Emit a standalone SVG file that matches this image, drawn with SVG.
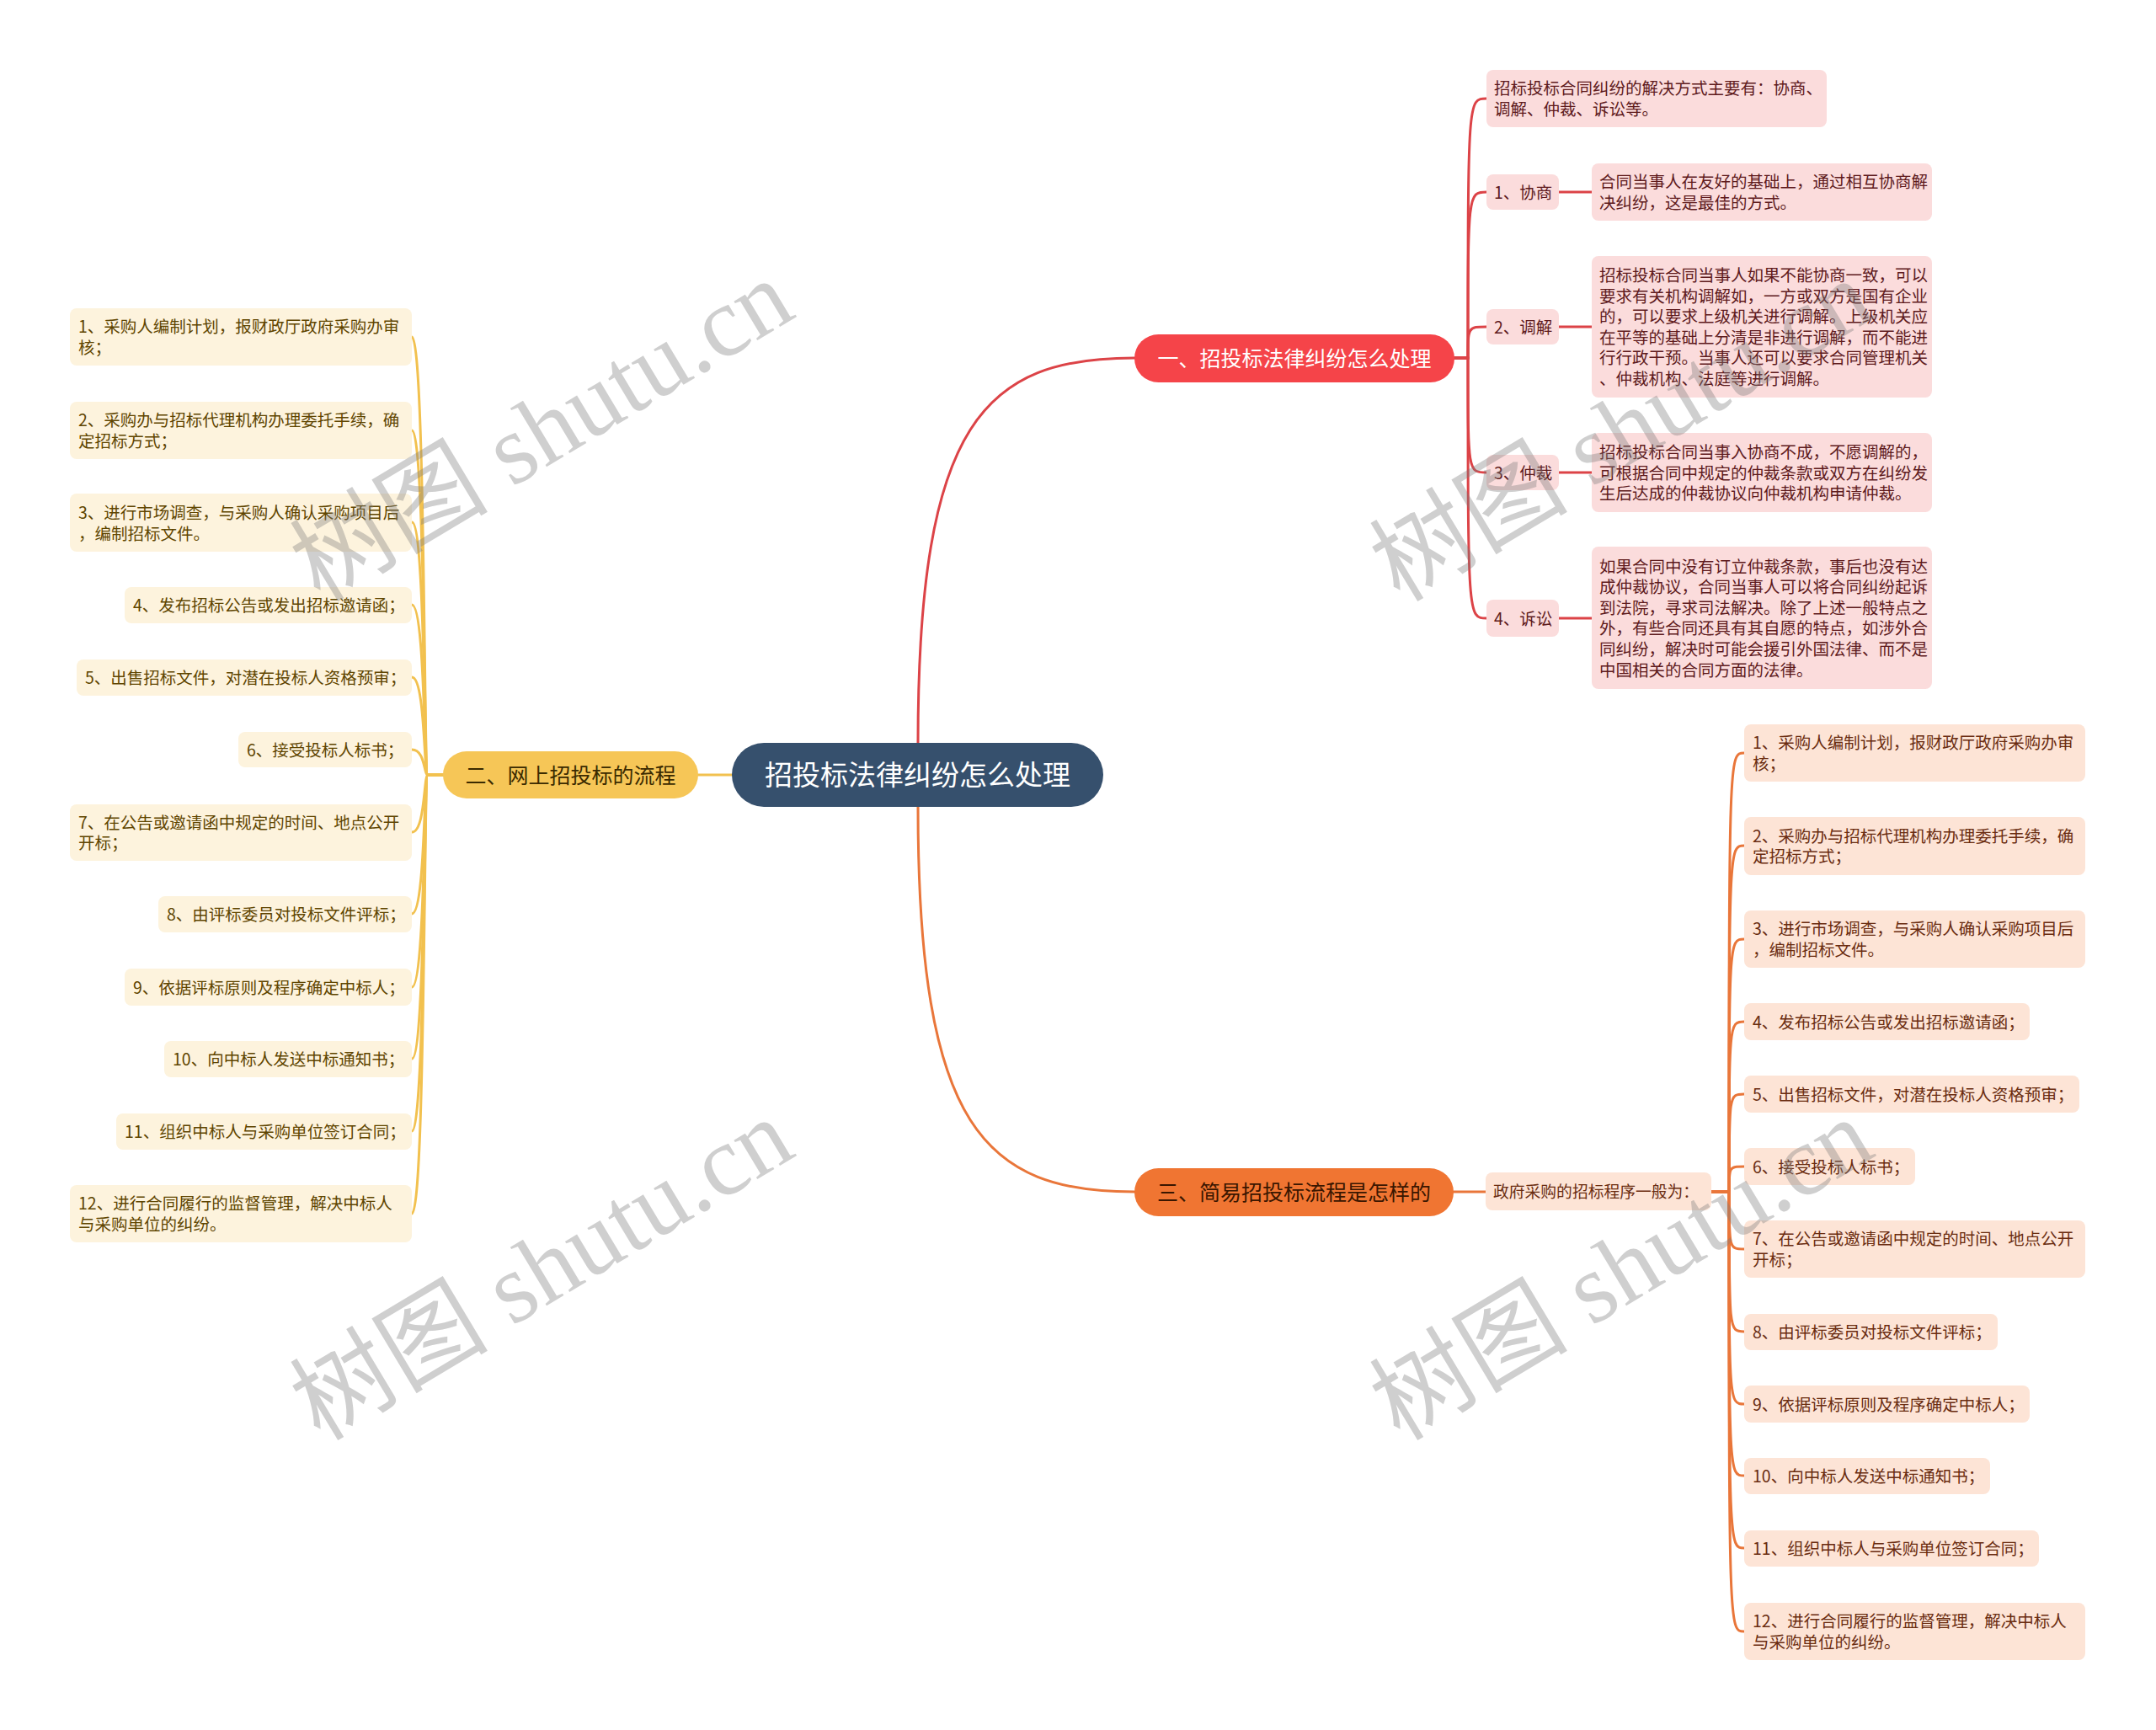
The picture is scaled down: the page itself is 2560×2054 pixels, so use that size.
<svg xmlns="http://www.w3.org/2000/svg" width="2560" height="2054" viewBox="0 0 2560 2054">
<style>
text{font-family:"Noto Sans CJK SC","Microsoft YaHei",sans-serif}
.c{fill:none;stroke-width:3;stroke-linecap:round}
.cr{stroke:#dc4347}
.cy{stroke:#f2c14f}
.co{stroke:#e9763a}
.br{fill:#fbdcdc}
.by{fill:#fdf3dd}
.bo{fill:#fde4d6}
.tr{font-size:19.5px;fill:#5e1a1c}
.ty{font-size:19.5px;fill:#5f4500}
.to{font-size:19.5px;fill:#6a2c10}
.main{font-size:25px}
.wm{font-family:"Liberation Serif","Noto Sans CJK SC",serif;font-size:118px;fill:#7a7a7a;fill-opacity:0.36}
</style>
<rect width="2560" height="2054" fill="#ffffff"/>
<g id="connectors">
<path class="c cr" d="M1090,882 C1090,500 1170,425 1347,425"/>
<path class="c co" d="M1090,958 C1090,1340 1170,1415 1347,1415"/>
<path class="c cy" d="M869,920 H829"/>
<path class="c cr" d="M1727,425 H1743 C1743,117 1743,117 1765,117"/>
<path class="c cr" d="M1727,425 H1743 C1743,228 1743,228 1765,228"/>
<path class="c cr" d="M1727,425 H1743 C1743,388 1743,388 1765,388"/>
<path class="c cr" d="M1727,425 H1743 C1743,561 1743,561 1765,561"/>
<path class="c cr" d="M1727,425 H1743 C1743,734 1743,734 1765,734"/>
<path class="c cr" d="M1851,228 H1890"/>
<path class="c cr" d="M1851,388 H1890"/>
<path class="c cr" d="M1851,561 H1890"/>
<path class="c cr" d="M1851,734 H1890"/>
<path class="c cy" d="M526,920 H508 C503,920 505,400 489,400"/>
<path class="c cy" d="M526,920 H508 C503,920 505,511 489,511"/>
<path class="c cy" d="M526,920 H508 C503,920 505,620 489,620"/>
<path class="c cy" d="M526,920 H508 C503,920 505,718 489,718"/>
<path class="c cy" d="M526,920 H508 C503,920 505,804 489,804"/>
<path class="c cy" d="M526,920 H508 C503,920 505,890 489,890"/>
<path class="c cy" d="M526,920 H508 C503,920 505,988 489,988"/>
<path class="c cy" d="M526,920 H508 C503,920 505,1085 489,1085"/>
<path class="c cy" d="M526,920 H508 C503,920 505,1172 489,1172"/>
<path class="c cy" d="M526,920 H508 C503,920 505,1257 489,1257"/>
<path class="c cy" d="M526,920 H508 C503,920 505,1343 489,1343"/>
<path class="c cy" d="M526,920 H508 C503,920 505,1441 489,1441"/>
<path class="c co" d="M1726,1415 H1764"/>
<path class="c co" d="M2032,1415 H2053 C2053,894 2053,894 2071,894"/>
<path class="c co" d="M2032,1415 H2053 C2053,1004 2053,1004 2071,1004"/>
<path class="c co" d="M2032,1415 H2053 C2053,1115 2053,1115 2071,1115"/>
<path class="c co" d="M2032,1415 H2053 C2053,1213 2053,1213 2071,1213"/>
<path class="c co" d="M2032,1415 H2053 C2053,1299 2053,1299 2071,1299"/>
<path class="c co" d="M2032,1415 H2053 C2053,1385 2053,1385 2071,1385"/>
<path class="c co" d="M2032,1415 H2053 C2053,1483 2053,1483 2071,1483"/>
<path class="c co" d="M2032,1415 H2053 C2053,1581 2053,1581 2071,1581"/>
<path class="c co" d="M2032,1415 H2053 C2053,1667 2053,1667 2071,1667"/>
<path class="c co" d="M2032,1415 H2053 C2053,1752 2053,1752 2071,1752"/>
<path class="c co" d="M2032,1415 H2053 C2053,1838 2053,1838 2071,1838"/>
<path class="c co" d="M2032,1415 H2053 C2053,1937 2053,1937 2071,1937"/>
</g>
<g id="root">
<rect x="869" y="882" width="441" height="76" rx="38" fill="#36506d"/>
<text x="1089.5" y="932" text-anchor="middle" font-size="33" fill="#ffffff">招投标法律纠纷怎么处理</text>
</g>
<g id="b1">
<rect x="1347" y="397" width="380" height="57" rx="28.5" fill="#f54449"/>
<text x="1537" y="435" text-anchor="middle" class="main" fill="#ffffff">一、招投标法律纠纷怎么处理</text>
</g>
<g id="b1-intro">
<rect class="br" x="1765" y="83" width="404" height="68" rx="8"/>
<text class="tr" x="1774" y="112">招标投标合同纠纷的解决方式主要有：协商、<tspan x="1774" y="136.5">调解、仲裁、诉讼等。</tspan></text>
</g>
<g id="b1-1">
<rect class="br" x="1765" y="207" width="86" height="42" rx="8"/>
<text class="tr" x="1774" y="235.5">1、协商</text>
</g>
<g id="b1-1d">
<rect class="br" x="1890" y="194" width="404" height="68" rx="8"/>
<text class="tr" x="1899" y="223">合同当事人在友好的基础上，通过相互协商解<tspan x="1899" y="247.5">决纠纷，这是最佳的方式。</tspan></text>
</g>
<g id="b1-2">
<rect class="br" x="1765" y="367" width="86" height="42" rx="8"/>
<text class="tr" x="1774" y="395.5">2、调解</text>
</g>
<g id="b1-2d">
<rect class="br" x="1890" y="304" width="404" height="168" rx="8"/>
<text class="tr" x="1899" y="334">招标投标合同当事人如果不能协商一致，可以<tspan x="1899" y="358.5">要求有关机构调解如，一方或双方是国有企业</tspan><tspan x="1899" y="383">的，可以要求上级机关进行调解。上级机关应</tspan><tspan x="1899" y="407.5">在平等的基础上分清是非进行调解，而不能进</tspan><tspan x="1899" y="432">行行政干预。当事人还可以要求合同管理机关</tspan><tspan x="1899" y="457">、仲裁机构、法庭等进行调解。</tspan></text>
</g>
<g id="b1-3">
<rect class="br" x="1765" y="540" width="86" height="42" rx="8"/>
<text class="tr" x="1774" y="568.5">3、仲裁</text>
</g>
<g id="b1-3d">
<rect class="br" x="1890" y="514" width="404" height="94" rx="8"/>
<text class="tr" x="1899" y="544">招标投标合同当事入协商不成，不愿调解的，<tspan x="1899" y="568.5">可根据合同中规定的仲裁条款或双方在纠纷发</tspan><tspan x="1899" y="593">生后达成的仲裁协议向仲裁机构申请仲裁。</tspan></text>
</g>
<g id="b1-4">
<rect class="br" x="1765" y="712" width="86" height="44" rx="8"/>
<text class="tr" x="1774" y="741.5">4、诉讼</text>
</g>
<g id="b1-4d">
<rect class="br" x="1890" y="649" width="404" height="169" rx="8"/>
<text class="tr" x="1899" y="679.5">如果合同中没有订立仲裁条款，事后也没有达<tspan x="1899" y="704">成仲裁协议，合同当事人可以将合同纠纷起诉</tspan><tspan x="1899" y="728.5">到法院，寻求司法解决。除了上述一般特点之</tspan><tspan x="1899" y="753">外，有些合同还具有其自愿的特点，如涉外合</tspan><tspan x="1899" y="778">同纠纷，解决时可能会援引外国法律、而不是</tspan><tspan x="1899" y="802.5">中国相关的合同方面的法律。</tspan></text>
</g>
<g id="b2">
<rect x="526" y="892" width="303" height="56" rx="28" fill="#f6c657"/>
<text x="677.5" y="929.5" text-anchor="middle" class="main" fill="#3b2a00">二、网上招投标的流程</text>
</g>
<g id="b2-1"><rect class="by" x="83" y="366" width="406" height="68" rx="8"/><text class="ty" x="93" y="395">1、采购人编制计划，报财政厅政府采购办审<tspan x="93" y="420">核；</tspan></text></g>
<g id="b2-2"><rect class="by" x="83" y="477" width="406" height="68" rx="8"/><text class="ty" x="93" y="506">2、采购办与招标代理机构办理委托手续，确<tspan x="93" y="531">定招标方式；</tspan></text></g>
<g id="b2-3"><rect class="by" x="83" y="586" width="406" height="69" rx="8"/><text class="ty" x="93" y="616">3、进行市场调查，与采购人确认采购项目后<tspan x="93" y="640.5">，编制招标文件。</tspan></text></g>
<g id="b2-4"><rect class="by" x="148" y="697" width="341" height="43" rx="8"/><text class="ty" x="158" y="726">4、发布招标公告或发出招标邀请函；</text></g>
<g id="b2-5"><rect class="by" x="91" y="783" width="398" height="43" rx="8"/><text class="ty" x="101" y="812">5、出售招标文件，对潜在投标人资格预审；</text></g>
<g id="b2-6"><rect class="by" x="283" y="869" width="206" height="42" rx="8"/><text class="ty" x="293" y="897.5">6、接受投标人标书；</text></g>
<g id="b2-7"><rect class="by" x="83" y="955" width="406" height="67" rx="8"/><text class="ty" x="93" y="983.5">7、在公告或邀请函中规定的时间、地点公开<tspan x="93" y="1008">开标；</tspan></text></g>
<g id="b2-8"><rect class="by" x="188" y="1064" width="301" height="43" rx="8"/><text class="ty" x="198" y="1093">8、由评标委员对投标文件评标；</text></g>
<g id="b2-9"><rect class="by" x="148" y="1150" width="341" height="44" rx="8"/><text class="ty" x="158" y="1179.5">9、依据评标原则及程序确定中标人；</text></g>
<g id="b2-10"><rect class="by" x="195" y="1236" width="294" height="43" rx="8"/><text class="ty" x="205" y="1265">10、向中标人发送中标通知书；</text></g>
<g id="b2-11"><rect class="by" x="138" y="1322" width="351" height="43" rx="8"/><text class="ty" x="148" y="1351">11、组织中标人与采购单位签订合同；</text></g>
<g id="b2-12"><rect class="by" x="83" y="1407" width="406" height="68" rx="8"/><text class="ty" x="93" y="1436">12、进行合同履行的监督管理，解决中标人<tspan x="93" y="1460.5">与采购单位的纠纷。</tspan></text></g>
<g id="b3">
<rect x="1347" y="1387" width="379" height="57" rx="28.5" fill="#f07532"/>
<text x="1536.5" y="1425" text-anchor="middle" class="main" fill="#3a1600">三、简易招投标流程是怎样的</text>
</g>
<g id="b3-intro">
<rect class="bo" x="1764" y="1392" width="268" height="45" rx="8"/>
<text class="to" x="1773" y="1422" style="font-size:18.8px">政府采购的招标程序一般为：</text>
</g>
<g id="b3-1"><rect class="bo" x="2071" y="860" width="405" height="68" rx="8"/><text class="to" x="2081" y="889">1、采购人编制计划，报财政厅政府采购办审<tspan x="2081" y="913.5">核；</tspan></text></g>
<g id="b3-2"><rect class="bo" x="2071" y="970" width="405" height="69" rx="8"/><text class="to" x="2081" y="999.5">2、采购办与招标代理机构办理委托手续，确<tspan x="2081" y="1024">定招标方式；</tspan></text></g>
<g id="b3-3"><rect class="bo" x="2071" y="1081" width="405" height="68" rx="8"/><text class="to" x="2081" y="1110">3、进行市场调查，与采购人确认采购项目后<tspan x="2081" y="1134.5">，编制招标文件。</tspan></text></g>
<g id="b3-4"><rect class="bo" x="2071" y="1191" width="339" height="44" rx="8"/><text class="to" x="2081" y="1220.5">4、发布招标公告或发出招标邀请函；</text></g>
<g id="b3-5"><rect class="bo" x="2071" y="1277" width="398" height="44" rx="8"/><text class="to" x="2081" y="1306.5">5、出售招标文件，对潜在投标人资格预审；</text></g>
<g id="b3-6"><rect class="bo" x="2071" y="1363" width="203" height="44" rx="8"/><text class="to" x="2081" y="1392.5">6、接受投标人标书；</text></g>
<g id="b3-7"><rect class="bo" x="2071" y="1449" width="405" height="68" rx="8"/><text class="to" x="2081" y="1478">7、在公告或邀请函中规定的时间、地点公开<tspan x="2081" y="1502.5">开标；</tspan></text></g>
<g id="b3-8"><rect class="bo" x="2071" y="1560" width="301" height="43" rx="8"/><text class="to" x="2081" y="1589">8、由评标委员对投标文件评标；</text></g>
<g id="b3-9"><rect class="bo" x="2071" y="1645" width="339" height="44" rx="8"/><text class="to" x="2081" y="1674.5">9、依据评标原则及程序确定中标人；</text></g>
<g id="b3-10"><rect class="bo" x="2071" y="1731" width="292" height="43" rx="8"/><text class="to" x="2081" y="1760">10、向中标人发送中标通知书；</text></g>
<g id="b3-11"><rect class="bo" x="2071" y="1817" width="350" height="43" rx="8"/><text class="to" x="2081" y="1846">11、组织中标人与采购单位签订合同；</text></g>
<g id="b3-12"><rect class="bo" x="2071" y="1903" width="405" height="68" rx="8"/><text class="to" x="2081" y="1932">12、进行合同履行的监督管理，解决中标人<tspan x="2081" y="1956.5">与采购单位的纠纷。</tspan></text></g>
<g id="watermarks">
<text class="wm" x="380" y="716" transform="rotate(-31 380 716)">树图 shutu.cn</text>
<text class="wm" x="380" y="1712" transform="rotate(-31 380 1712)">树图 shutu.cn</text>
<text class="wm" x="1662" y="716" transform="rotate(-31 1662 716)">树图 shutu.cn</text>
<text class="wm" x="1662" y="1712" transform="rotate(-31 1662 1712)">树图 shutu.cn</text>
</g>
</svg>
